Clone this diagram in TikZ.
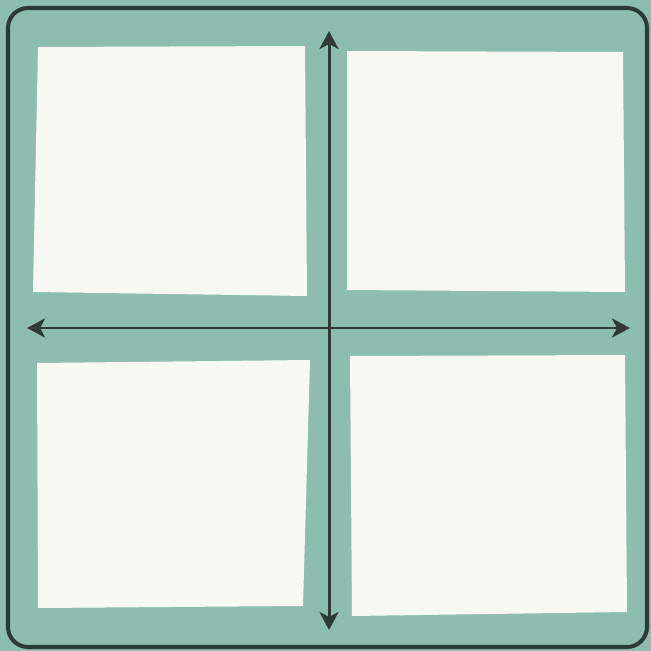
\documentclass[tikz,border=0pt]{standalone}
\usepackage{tikz}
\usetikzlibrary{arrows.meta}
\usepackage{xcolor}
\definecolor{board}{RGB}{141,189,175}
\definecolor{ink}{RGB}{46,58,54}
\definecolor{paper}{RGB}{247,247,243}

\begin{document}
\begin{tikzpicture}[x=0.02cm, y=-0.02cm,
  sheet/.style={fill=paper, draw=none},
  axis/.style={draw=ink, line width=1.7pt,
    {Stealth[length=0.36cm,width=0.38cm,inset=0.1cm]}-{Stealth[length=0.36cm,width=0.38cm,inset=0.1cm]}}]
% board and frame
\fill[board] (0,0) rectangle (651,651);
\draw[ink, line width=2.3pt, rounded corners=0.4cm] (8,8) rectangle (647,647);
% four sheets
\fill[sheet] (38,47) -- (305,46) -- (307,296) -- (33,292) -- cycle;
\fill[sheet] (347,51) -- (623,52) -- (625,292) -- (347,290) -- cycle;
\fill[sheet] (37,363) -- (310,360) -- (303,606) -- (38,608) -- cycle;
\fill[sheet] (350,356) -- (625,355) -- (627,612) -- (352,616) -- cycle;
% axes
\coordinate (top) at (329,31);
\coordinate (bottom) at (329,630);
\coordinate (west) at (27,328);
\coordinate (east) at (630,328);
\draw[axis] (bottom) -- (top);
\draw[axis] (west) -- (east);
\end{tikzpicture}
\end{document}
